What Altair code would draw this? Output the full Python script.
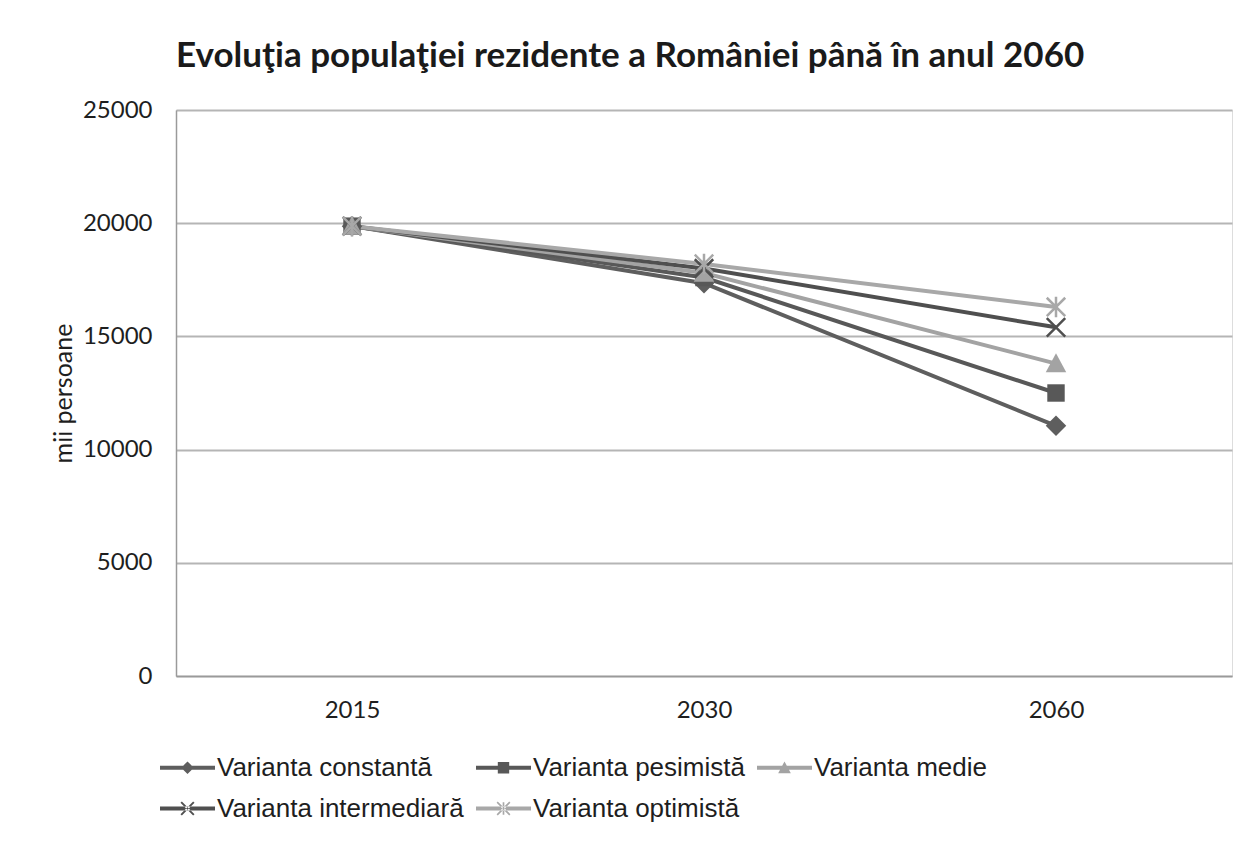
import altair as alt
import pandas as pd

years = ["2015", "2030", "2060"]
series = ["Varianta constantă", "Varianta pesimistă", "Varianta medie",
          "Varianta intermediară", "Varianta optimistă"]
constanta = [19870, 17350, 11050]
pesimista = [19870, 17600, 12500]
medie = [19870, 17800, 13800]
intermediara = [19870, 18000, 15400]
optimista = [19870, 18200, 16300]
filled_flags = [1, 1, 1, 0, 0]
colors = ["#5e5e5e", "#585858", "#a3a3a3", "#4f4f4f", "#a8a8a8"]
y_ticks = [0, 5000, 10000, 15000, 20000, 25000]

values = [constanta, pesimista, medie, intermediara, optimista]
rows = []
for s, vals, f in zip(series, values, filled_flags):
    for yr, v in zip(years, vals):
        rows.append({"an": yr, "serie": s, "valoare": v, "plin": f})
df = pd.DataFrame(rows)


# marker shapes (unit coordinates)
def poly(pts):
    return "M" + "L".join(f"{x:.3f},{y:.3f}" for x, y in pts) + "Z"


def bar(x1, y1, x2, y2, t):
    dx, dy = x2 - x1, y2 - y1
    ln = (dx * dx + dy * dy) ** 0.5
    nx, ny = -dy / ln * t, dx / ln * t
    return poly([(x1 + nx, y1 + ny), (x2 + nx, y2 + ny), (x2 - nx, y2 - ny), (x1 - nx, y1 - ny)])


diamond = "M0,-1L1,0L0,1L-1,0Z"
square = "M-0.85,-0.85H0.85V0.85H-0.85Z"
triangle = "M0,-1L1,0.85H-1Z"
xcross = "M-0.9,-0.9L0.9,0.9M-0.9,0.9L0.9,-0.9"
aster = "M-0.9,-0.9L0.9,0.9M-0.9,0.9L0.9,-0.9M0,-1L0,1"
marker_paths = [diamond, square, triangle, xcross, aster]

m = 0.23
lt = 0.07
line_path = poly([(-1, -lt), (1, -lt), (1, lt), (-1, lt)])
leg_paths = [
    line_path + poly([(0, -m), (m, 0), (0, m), (-m, 0)]),
    line_path + poly([(-m * 0.9, -m * 0.9), (m * 0.9, -m * 0.9), (m * 0.9, m * 0.9), (-m * 0.9, m * 0.9)]),
    line_path + poly([(0, -m), (m, m * 0.85), (-m, m * 0.85)]),
    line_path + bar(-m, -m, m, m, 0.035) + bar(-m, m, m, -m, 0.035),
    line_path + bar(-m, -m, m, m, 0.03) + bar(-m, m, m, -m, 0.03) + bar(0, -m, 0, m, 0.03),
]

# the legend fills column by column; this order shows the series row by row
leg_order = [0, 3, 1, 4, 2]
leg_domain = [series[i] for i in leg_order]
leg_colors = [colors[i] for i in leg_order]
leg_shapes = [leg_paths[i] for i in leg_order]

color_scale = alt.Scale(domain=series, range=colors)
x_enc = alt.X("an:O", title=None, sort=years,
              scale=alt.Scale(type="point", padding=0.5),
              axis=alt.Axis(labelAngle=0, ticks=False, domain=True, domainColor="#9a9a9a",
                            domainWidth=1.5, grid=False, labelFont="Lato", labelFontSize=24,
                            labelColor="#1e1e1e", labelPadding=22))
y_enc = alt.Y("valoare:Q", title="mii persoane",
              scale=alt.Scale(domain=[0, 25000], nice=False),
              axis=alt.Axis(values=y_ticks, format="d", ticks=False, domain=True,
                            domainColor="#9a9a9a", domainWidth=1.5, grid=True,
                            gridColor="#b5b5b5", gridWidth=2, labelFont="Lato",
                            labelFontSize=24, labelColor="#1e1e1e", labelPadding=24,
                            titleFont="Lato", titleFontSize=25, titleFontWeight="normal",
                            titleColor="#1e1e1e", titlePadding=6))

base = alt.Chart(df)

lines = base.mark_line(strokeWidth=4).encode(
    x=x_enc, y=y_enc,
    color=alt.Color("serie:N", scale=color_scale, legend=None),
    order=alt.Order("an:O"),
)

pts_filled = base.transform_filter("datum.plin == 1").mark_point(
    filled=True, size=420, opacity=1, strokeWidth=0).encode(
    x=x_enc, y=y_enc,
    color=alt.Color("serie:N", scale=color_scale, legend=None),
    shape=alt.Shape("serie:N", scale=alt.Scale(domain=series, range=marker_paths), legend=None),
)

pts_open = base.transform_filter("datum.plin == 0").mark_point(
    filled=False, size=420, opacity=1, strokeWidth=2.5).encode(
    x=x_enc, y=y_enc,
    color=alt.Color("serie:N", scale=color_scale, legend=None),
    shape=alt.Shape("serie:N", scale=alt.Scale(domain=series, range=marker_paths), legend=None),
)

leg = alt.Legend(title=None, orient="none", legendX=-16, legendY=630, columns=3,
                 symbolSize=3025, symbolStrokeWidth=0, symbolOpacity=1,
                 labelFont="Liberation Sans", labelFontSize=26, labelColor="#1e1e1e",
                 labelOffset=2, rowPadding=-6, columnPadding=12, padding=0,
                 labelLimit=400)

legend_layer = base.mark_point(filled=True, opacity=0, size=10).encode(
    x=x_enc, y=y_enc,
    color=alt.Color("serie:N", scale=alt.Scale(domain=leg_domain, range=leg_colors),
                    sort=leg_domain, legend=leg),
    shape=alt.Shape("serie:N", scale=alt.Scale(domain=leg_domain, range=leg_shapes),
                    sort=leg_domain, legend=leg),
)

chart = alt.layer(lines, pts_filled, pts_open, legend_layer).resolve_scale(
    shape="independent", color="independent"
).properties(
    width=1056,
    height=566,
    autosize=alt.AutoSizeParams(type="none"),
    padding={"left": 168, "top": 102, "right": 7, "bottom": 150},
    title=alt.TitleParams(
        "Evoluţia populaţiei rezidente a României până în anul 2060",
        font="Lato", fontSize=35, fontWeight="bold", anchor="start", frame="group",
        color="#1a1a1a", offset=24,
    ),
).configure_view(stroke=None).configure(background="white")

chart.save("out.html", embed_options={"renderer": "svg", "actions": False})
